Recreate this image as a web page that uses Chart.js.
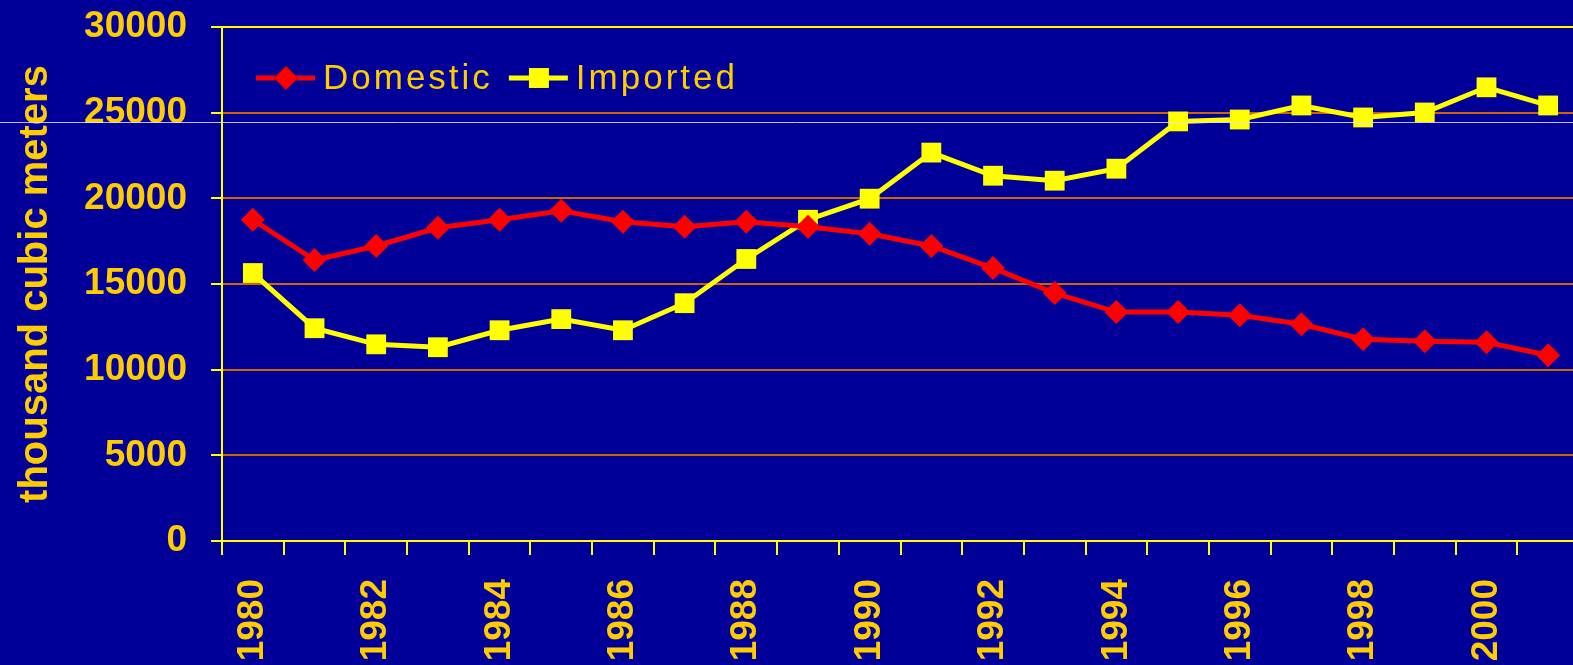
<!DOCTYPE html>
<html lang="en">
<head>
  <meta charset="UTF-8" />
  <title>Domestic vs Imported</title>
  <script src="https://cdn.jsdelivr.net/npm/chart.js"></script>
  <style>
    html, body {
      margin: 0;
      padding: 0;
      background: #000099;
      overflow: hidden;
    }
    canvas {
      display: block;
      background: #000099;
    }
  </style>
</head>
<body>
  <canvas id="woodChart" width="1593" height="665"></canvas>

  <script>
    const years = ['1980', '1981', '1982', '1983', '1984', '1985', '1986', '1987', '1988', '1989', '1990',
                   '1991', '1992', '1993', '1994', '1995', '1996', '1997', '1998', '1999', '2000', '2001'];

    const domestic = [18750, 16400, 17220, 18280, 18750, 19270, 18630, 18340, 18630, 18340, 17930,
                      17220, 15930, 14470, 13360, 13360, 13180, 12650, 11780, 11660, 11600, 10840];

    const imported = [15640, 12420, 11480, 11310, 12300, 12950, 12300, 13880, 16460, 18750, 19980,
                      22670, 21320, 21030, 21730, 24490, 24600, 25420, 24720, 25010, 26480, 25420];

    const yMax = 30000;
    const yStep = 5000;

    const gold = '#FFCC00';
    const axisYellow = '#FFFF00';
    const gridOrange = '#CC6600';
    const font = "'Liberation Sans', Arial, sans-serif";

    // legend drawn inside the plot, line + marker like the original
    const insideLegend = {
      id: 'insideLegend',
      afterDraw(chart) {
        const ctx = chart.ctx;
        const area = chart.chartArea;
        let x = area.left + 34;
        const y = area.top + 51;
        ctx.save();
        ctx.font = '35px ' + font;
        ctx.letterSpacing = '3px';
        ctx.textBaseline = 'middle';
        chart.data.datasets.forEach(ds => {
          ctx.strokeStyle = ds.borderColor;
          ctx.lineWidth = 5;
          ctx.beginPath();
          ctx.moveTo(x, y);
          ctx.lineTo(x + 59, y);
          ctx.stroke();
          Chart.helpers.drawPoint(ctx, {
            pointStyle: ds.pointStyle,
            radius: ds.pointRadius,
            rotation: 0,
            borderWidth: 0
          }, x + 30, y);
          ctx.fillStyle = ds.pointBackgroundColor;
          ctx.fill();
          ctx.fillStyle = gold;
          ctx.fillText(ds.label, x + 67, y + 1);
          x += 67 + ctx.measureText(ds.label).width + 16;
        });
        // thin light scan line across the picture
        ctx.strokeStyle = 'rgba(225,225,255,0.85)';
        ctx.lineWidth = 1;
        ctx.beginPath();
        ctx.moveTo(0, 122.5);
        ctx.lineTo(chart.width, 122.5);
        ctx.stroke();
        ctx.restore();
      }
    };

    new Chart(document.getElementById('woodChart'), {
      type: 'line',
      data: {
        labels: years,
        datasets: [{
          label: 'Domestic',
          data: domestic,
          borderColor: '#FF0000',
          backgroundColor: '#FF0000',
          borderWidth: 5,
          pointStyle: 'rectRot',
          pointRadius: 12,
          pointBackgroundColor: '#FF0000',
          pointBorderWidth: 0,
          tension: 0,
          fill: false
        }, {
          label: 'Imported',
          data: imported,
          borderColor: '#FFFF00',
          backgroundColor: '#FFFF00',
          borderWidth: 5,
          pointStyle: 'rect',
          pointRadius: 14,
          pointBackgroundColor: '#FFFF00',
          pointBorderWidth: 0,
          tension: 0,
          fill: false
        }]
      },
      options: {
        responsive: false,
        devicePixelRatio: 1,
        animation: false,
        layout: { padding: { top: 27, right: 0, left: 0, bottom: 0 } },
        plugins: {
          legend: { display: false },
          tooltip: { enabled: false }
        },
        scales: {
          x: {
            offset: true,
            afterFit(scale) {
              scale.height = 124;
              scale.paddingLeft = 0;
              scale.paddingRight = 0;
            },
            grid: {
              offset: true,
              drawOnChartArea: false,
              color: axisYellow,
              lineWidth: 2,
              tickLength: 14
            },
            border: { color: axisYellow, width: 2 },
            ticks: {
              autoSkip: false,
              minRotation: 90,
              maxRotation: 90,
              padding: 24,
              color: gold,
              font: { family: font, size: 37, weight: 'bold' },
              callback: (v, i) => i % 2 === 0 ? years[i] : ''
            }
          },
          y: {
            min: 0,
            max: yMax,
            afterFit(scale) {
              scale.width = 222;
              scale.paddingTop = 0;
              scale.paddingBottom = 0;
            },
            grid: {
              color: ctx => ctx.tick && ctx.tick.value === yMax ? axisYellow : gridOrange,
              tickColor: axisYellow,
              lineWidth: 2,
              tickLength: 11
            },
            border: { color: axisYellow, width: 2 },
            ticks: {
              stepSize: yStep,
              padding: 24,
              color: gold,
              font: { family: font, size: 37, weight: 'bold' },
              callback: v => String(v)
            },
            title: {
              display: true,
              text: 'thousand cubic meters',
              color: gold,
              padding: { top: 12, bottom: 0 },
              font: { family: font, size: 40, weight: 'bold' }
            }
          }
        }
      },
      plugins: [insideLegend]
    });
  </script>
</body>
</html>
